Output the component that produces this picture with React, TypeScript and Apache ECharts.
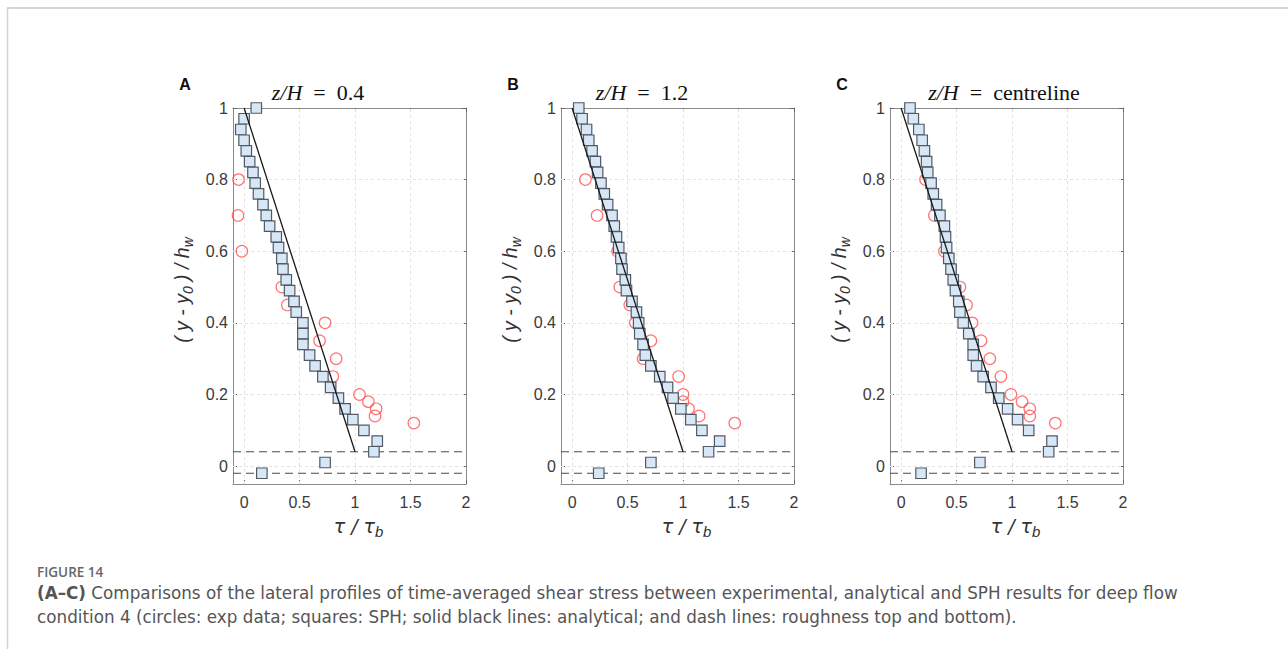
import { useEffect, useRef } from "react";
import * as echarts from "echarts";

// SPH (squares): vertical positions and tau/tau_b for each panel
const sphLevels = [1.0, 0.97, 0.94, 0.91, 0.88, 0.85, 0.82, 0.79, 0.76, 0.73, 0.7, 0.67, 0.64, 0.61, 0.58, 0.55, 0.52, 0.49, 0.46, 0.43, 0.4, 0.37, 0.34, 0.31, 0.28, 0.25, 0.22, 0.19, 0.16, 0.13, 0.1, 0.07, 0.04, 0.01, -0.02];
const sphA = [0.11, 0.0, -0.03, 0.0, 0.02, 0.05, 0.08, 0.1, 0.13, 0.17, 0.2, 0.23, 0.29, 0.31, 0.34, 0.35, 0.38, 0.41, 0.45, 0.47, 0.53, 0.53, 0.53, 0.59, 0.64, 0.71, 0.78, 0.85, 0.91, 0.98, 1.08, 1.2, 1.17, 0.73, 0.16];
const sphB = [0.06, 0.09, 0.13, 0.15, 0.18, 0.21, 0.23, 0.26, 0.29, 0.32, 0.36, 0.38, 0.4, 0.42, 0.44, 0.45, 0.48, 0.49, 0.54, 0.58, 0.6, 0.61, 0.64, 0.66, 0.71, 0.79, 0.86, 0.91, 0.98, 1.07, 1.17, 1.33, 1.23, 0.71, 0.24];
const sphC = [0.08, 0.11, 0.16, 0.19, 0.21, 0.23, 0.24, 0.27, 0.29, 0.32, 0.35, 0.39, 0.4, 0.41, 0.43, 0.45, 0.47, 0.49, 0.52, 0.53, 0.56, 0.61, 0.65, 0.65, 0.68, 0.74, 0.81, 0.88, 0.96, 1.05, 1.15, 1.36, 1.33, 0.71, 0.18];

// Experimental (circles)
const expLevels = [0.8, 0.7, 0.6, 0.5, 0.45, 0.4, 0.35, 0.3, 0.25, 0.2, 0.18, 0.16, 0.14, 0.12];
const expA = [-0.05, -0.055, -0.02, 0.34, 0.39, 0.73, 0.68, 0.83, 0.8, 1.04, 1.12, 1.19, 1.18, 1.53];
const expB = [0.12, 0.225, 0.41, 0.43, 0.52, 0.57, 0.71, 0.64, 0.96, 1.0, 1.0, 1.05, 1.145, 1.466];
const expC = [0.22, 0.3, 0.39, 0.53, 0.59, 0.64, 0.72, 0.8, 0.9, 0.99, 1.09, 1.16, 1.16, 1.39];

// Analytical line
const analyticalTau = [0, 1];
const analyticalY = [1, 0.04];

// Roughness top and bottom
const roughnessLevels = [0.04, -0.02];

const panelLetters = ["A", "B", "C"];
const panelTitles = ["0.4", "1.2", "centreline"];
const xTicks = [0, 0.5, 1, 1.5, 2];
const yTicks = [0, 0.2, 0.4, 0.6, 0.8, 1];
const xGridVals = [0, 0.5, 1, 1.5];
const yGridVals = [0, 0.2, 0.4, 0.6, 0.8];
const xRange = [-0.1, 2];
const yRange = [-0.05, 1];

const captionLine1 = " Comparisons of the lateral profiles of time-averaged shear stress between experimental, analytical and SPH results for deep flow";
const captionLine2 = "condition 4 (circles: exp data; squares: SPH; solid black lines: analytical; and dash lines: roughness top and bottom).";

const sphSets = [sphA, sphB, sphC];
const expSets = [expA, expB, expC];

const gridLefts = [233, 561, 890];
const gridTop = 108;
const gridW = 233;
const gridH = 376;
const titleCenters = [318, 642, 1004];

const SANS = "Liberation Sans, Arial, Helvetica, sans-serif";
const SERIF = "Liberation Serif, Times New Roman, serif";
const CAP = "DejaVu Sans, sans-serif";

export default function App() {
  const ref = useRef<HTMLDivElement>(null);
  useEffect(() => {
    document.body.style.margin = "0";
    const chart = echarts.init(ref.current!, undefined, { renderer: "svg" });

    const grids: any[] = [];
    const xAxes: any[] = [];
    const yAxes: any[] = [];
    const series: any[] = [];
    const graphics: any[] = [];

    const axisLineStyle = { color: "#8a8a8a", width: 1 };
    const tickStyle = { color: "#666", width: 1 };
    const labelStyle = { fontSize: 16, color: "#3a3a3a", fontFamily: SANS };

    for (let i = 0; i < 3; i++) {
      grids.push({ left: gridLefts[i], top: gridTop, width: gridW, height: gridH, containLabel: false });
      const xBase = {
        type: "value", gridIndex: i, min: xRange[0], max: xRange[1],
        axisLine: { show: true, onZero: false, lineStyle: axisLineStyle },
        splitLine: { show: false },
      };
      xAxes.push({
        ...xBase, position: "bottom",
        axisTick: { show: true, inside: true, length: 4, customValues: xTicks, lineStyle: tickStyle },
        axisLabel: { show: true, customValues: xTicks, margin: 10, ...labelStyle, formatter: (v: number) => String(v) },
      });
      xAxes.push({
        ...xBase, position: "top",
        axisTick: { show: true, inside: true, length: 4, customValues: xTicks, lineStyle: tickStyle },
        axisLabel: { show: false },
      });
      const yBase = {
        type: "value", gridIndex: i, min: yRange[0], max: yRange[1],
        axisLine: { show: true, onZero: false, lineStyle: axisLineStyle },
        splitLine: { show: false },
      };
      yAxes.push({
        ...yBase, position: "left",
        axisTick: { show: true, inside: true, length: 4, customValues: yTicks, lineStyle: tickStyle },
        axisLabel: { show: true, customValues: yTicks, margin: 5, ...labelStyle, formatter: (v: number) => String(v) },
      });
      yAxes.push({
        ...yBase, position: "right",
        axisTick: { show: true, inside: true, length: 4, customValues: yTicks, lineStyle: tickStyle },
        axisLabel: { show: false },
      });
      const xi = i * 2;
      const yi = i * 2;

      // roughness dashed lines (+ grid lines as markLine)
      roughnessLevels.forEach((lv, k) => {
        series.push({
          type: "line", xAxisIndex: xi, yAxisIndex: yi, z: 2, symbol: "none", silent: true,
          data: [[xRange[0], lv], [xRange[1], lv]],
          lineStyle: { color: "#4a4a4a", width: 1, type: [8, 5] },
          markLine: k === 0 ? {
            silent: true, symbol: "none", z: 1, label: { show: false },
            lineStyle: { color: "#e2e2e2", width: 1, type: [3, 3] },
            data: [
              ...xGridVals.map((v) => ({ xAxis: v })),
              ...yGridVals.map((v) => ({ yAxis: v })),
            ],
          } : undefined,
        });
      });

      series.push({
        type: "scatter", xAxisIndex: xi, yAxisIndex: yi, z: 3, symbol: "circle", symbolSize: 11.5,
        data: expSets[i].map((x, k) => [x, expLevels[k]]),
        itemStyle: { color: "rgba(255,255,255,0)", borderColor: "#ff5050", borderWidth: 1.2 },
      });
      series.push({
        type: "scatter", xAxisIndex: xi, yAxisIndex: yi, z: 4, symbol: "rect", symbolSize: 10.5,
        data: sphSets[i].map((x, k) => [x, sphLevels[k]]),
        itemStyle: { color: "#d8e7f6", borderColor: "#505a66", borderWidth: 1.2, opacity: 1 },
      });
      series.push({
        type: "line", xAxisIndex: xi, yAxisIndex: yi, z: 5, symbol: "none", silent: true,
        data: analyticalTau.map((x, k) => [x, analyticalY[k]]),
        lineStyle: { color: "#1a1a1a", width: 1.3 },
      });

      // panel letter
      graphics.push({
        type: "text", x: gridLefts[i] - 48, y: 84,
        style: { text: panelLetters[i], font: `bold 16px ${SANS}`, fill: "#111", align: "center", verticalAlign: "middle" },
      });
      // title
      graphics.push({
        type: "text", x: titleCenters[i], y: 92,
        style: {
          text: `{i|z/H}{n|  =  ${panelTitles[i]}}`,
          align: "center", verticalAlign: "middle", fill: "#111",
          rich: {
            i: { fontFamily: SERIF, fontStyle: "italic", fontSize: 22, fill: "#111" },
            n: { fontFamily: SERIF, fontSize: 22, fill: "#111" },
          },
        },
      });
      // x axis name
      graphics.push({
        type: "text", x: gridLefts[i] + gridW / 2 + 9, y: 526,
        style: {
          text: "{t|τ / τ}{s|b}",
          align: "center", verticalAlign: "middle",
          rich: {
            t: { fontFamily: "DejaVu Sans, sans-serif", fontStyle: "italic", fontSize: 19, fill: "#333", lineHeight: 25, verticalAlign: "middle" },
            s: { fontFamily: SANS, fontStyle: "italic", fontSize: 15, fill: "#333", verticalAlign: "bottom", lineHeight: 25 },
          },
        },
      });
      // y axis name
      graphics.push({
        type: "text", x: gridLefts[i] - 51, y: 290, rotation: Math.PI / 2,
        style: {
          text: "{n|( y - y}{s|0}{n| ) / h}{s|w}",
          align: "center", verticalAlign: "middle",
          rich: {
            n: { fontFamily: SANS, fontStyle: "italic", fontSize: 19.5, fill: "#333", lineHeight: 25, verticalAlign: "middle" },
            s: { fontFamily: SANS, fontStyle: "italic", fontSize: 14, fill: "#333", lineHeight: 25, verticalAlign: "bottom" },
          },
        },
      });
    }

    // frame lines
    graphics.push({ type: "line", shape: { x1: 7, y1: 8, x2: 1288, y2: 8 }, style: { stroke: "#d4d4d4", lineWidth: 2 } });
    graphics.push({ type: "line", shape: { x1: 7.5, y1: 8, x2: 7.5, y2: 649 }, style: { stroke: "#d4d4d4", lineWidth: 1.5 } });

    // caption
    graphics.push({
      type: "text", x: 37, y: 572,
      style: { text: "FIGURE 14", font: `600 13.5px Open Sans, sans-serif`, fill: "#666", verticalAlign: "middle" },
    });
    graphics.push({
      type: "text", x: 37, y: 593,
      style: {
        text: `{b|(A–C)}{n|${captionLine1}}`, verticalAlign: "middle",
        rich: {
          b: { fontFamily: CAP, fontWeight: "bold", fontSize: 16.8, fill: "#555" },
          n: { fontFamily: CAP, fontSize: 16.8, fill: "#555" },
        },
      },
    });
    graphics.push({
      type: "text", x: 37, y: 617,
      style: { text: captionLine2, font: `16.8px ${CAP}`, fill: "#555", verticalAlign: "middle" },
    });

    chart.setOption({
      animation: false,
      backgroundColor: "#ffffff",
      grid: grids,
      xAxis: xAxes,
      yAxis: yAxes,
      series,
      graphic: graphics,
    });
    return () => chart.dispose();
  }, []);
  return <div ref={ref} style={{ position: "absolute", left: 0, top: 0, width: 1288, height: 649 }} />;
}
